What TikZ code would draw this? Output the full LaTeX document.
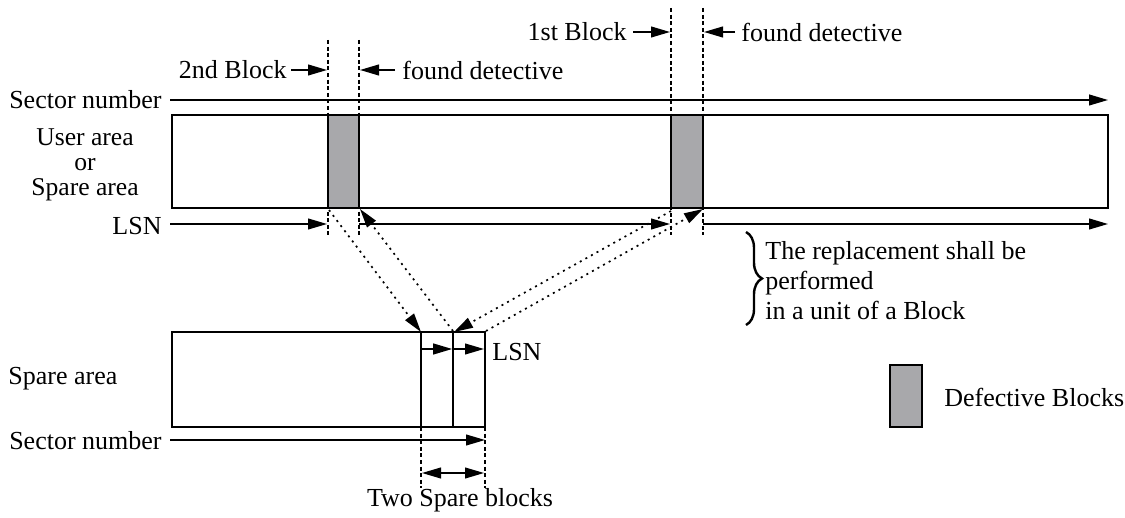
\documentclass[tikz,border=0pt]{standalone}
\usepackage{fontspec}
\setmainfont{Liberation Serif}
\usetikzlibrary{arrows.meta,decorations.pathreplacing}
\definecolor{defgray}{RGB}{168,168,171}
\tikzset{
  lbl/.style={font=\fontsize{13}{15}\selectfont, inner sep=0pt},
  tipA/.tip={Triangle[length=9.5pt,width=5.4pt]},
  arr/.style={line width=0.85pt, -tipA},
  darr/.style={line width=0.85pt, tipA-tipA},
  dotarr/.style={line width=0.85pt, dash pattern=on 1pt off 2.2pt, -tipA},
  guide/.style={line width=0.7pt, dash pattern=on 2pt off 1.3pt},
  areabox/.style={draw, line width=0.85pt},
  defect/.style={draw, line width=0.85pt, fill=defgray},
}
\begin{document}
\begin{tikzpicture}[x=0.5pt,y=-0.5pt]
\useasboundingbox (0,0) rectangle (1125,518);

% ---------- top area ----------
\node[lbl, anchor=east] (sn1) at (162,100) {Sector number};
\coordinate (sn1end) at (1108,100);
\draw[arr] ([xshift=4pt]sn1.east) -- (sn1end);

\draw[areabox] (172,115) rectangle (1108,208);
\draw[defect] (328,115) rectangle (359,208);
\draw[defect] (671,115) rectangle (703,208);

\node[lbl, align=center, font={\fontsize{12.8}{12.6}\selectfont}] (ua) at (85,165)
  {\lineskiplimit=-20pt User area\\or\\Spare area};

% guides
\coordinate (g2l) at (328,40);  \coordinate (g2lb) at (328,235);
\coordinate (g2r) at (359,40);  \coordinate (g2rb) at (359,235);
\coordinate (g1l) at (671,8);   \coordinate (g1lb) at (671,235);
\coordinate (g1r) at (703,8);   \coordinate (g1rb) at (703,235);
\draw[guide] (g2l) -- (g2lb);
\draw[guide] (g2r) -- (g2rb);
\draw[guide] (g1l) -- (g1lb);
\draw[guide] (g1r) -- (g1rb);

% block labels
\node[lbl, anchor=east] (b2) at (287,70) {2nd Block};
\draw[arr] ([xshift=2pt]b2.east) -- (327,70);
\node[lbl, anchor=west] (fd2) at (402,70) {found detective};
\draw[arr] ([xshift=-3.5pt]fd2.west) -- (360,70);
\node[lbl, anchor=east] (b1) at (627,32) {1st Block};
\draw[arr] ([xshift=3pt]b1.east) -- (670,32);
\node[lbl, anchor=west] (fd1) at (741,32) {found detective};
\draw[arr] ([xshift=-3pt]fd1.west) -- (704,32);

% LSN
\node[lbl, anchor=east] (lsn1) at (162,226) {LSN};
\coordinate (l1) at (327,224);
\coordinate (l2a) at (359,224); \coordinate (l2b) at (670,224);
\coordinate (l3a) at (703,224); \coordinate (l3b) at (1108,224);
\draw[arr] ([xshift=4pt]lsn1.east |- l1) -- (l1);
\draw[arr] (l2a) -- (l2b);
\draw[arr] (l3a) -- (l3b);

% brace and note
\draw[line width=1.2pt, decorate, decoration={brace, amplitude=8pt}] (746,232) -- (746,325);
\node[lbl, anchor=west, align=left] (note) at (765,281) {The replacement shall be\\performed\\in a unit of a Block};

% ---------- spare area ----------
\draw[areabox] (172,332) rectangle (485,427);
\draw[line width=0.85pt] (421,332) -- (421,427);
\draw[line width=0.85pt] (453,332) -- (453,427);
\coordinate (s1) at (421,349); \coordinate (s2) at (453,349); \coordinate (s3) at (484,349);
\draw[arr] (s1) -- ([xshift=-0.4pt]s2);
\draw[arr] (s2) -- (s3);
\node[lbl, anchor=west] (lsn2) at (492,352) {LSN};
\node[lbl, anchor=west] (sa) at (8,379) {Spare area};

\node[lbl, anchor=east] (sn2) at (162,441) {Sector number};
\draw[arr] ([xshift=4pt]sn2.east |- 0,440) -- (485,440);

\draw[guide] (421,427) -- (421,488);
\draw[guide] (485,427) -- (485,488);
\draw[darr] (422,473) -- (484,473);
\node[lbl] (two) at (460,500) {Two Spare blocks};

% ---------- dotted replacement arrows ----------
\coordinate (A0) at (329,210); \coordinate (A1) at (421,332);
\coordinate (B0) at (453,331); \coordinate (B1) at (360,209);
\coordinate (C0) at (671,211); \coordinate (C1) at (454,332);
\coordinate (D0) at (486,331); \coordinate (D1) at (703,209);
\draw[dotarr] (A0) -- (A1);
\draw[dotarr] (B0) -- (B1);
\draw[dotarr] (C0) -- (C1);
\draw[dotarr] (D0) -- (D1);

% ---------- legend ----------
\draw[defect] (890,365) rectangle (922,427);
\node[lbl, anchor=west] (leg) at (944,397) {Defective Blocks};
\end{tikzpicture}
\end{document}
